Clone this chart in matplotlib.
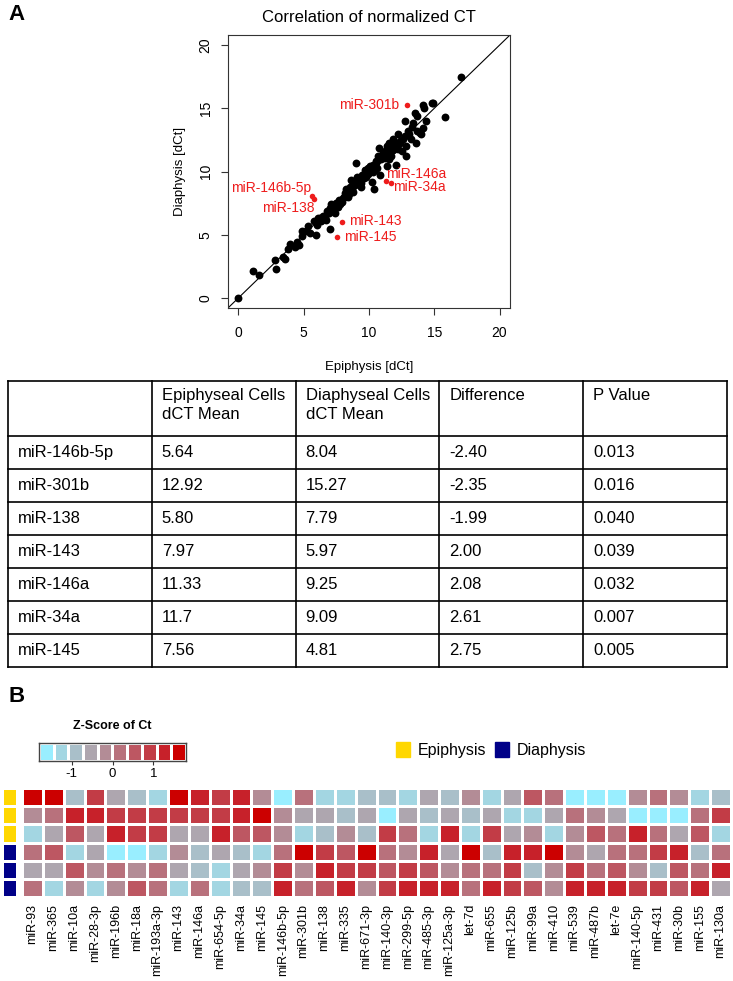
import numpy as np
import matplotlib
matplotlib.use('Agg')
import matplotlib.pyplot as plt
from matplotlib.colors import ListedColormap, BoundaryNorm
from matplotlib.patches import Rectangle

plt.rcParams['font.family'] = ['Liberation Sans', 'DejaVu Sans']
plt.rcParams['axes.unicode_minus'] = False

# ---- Panel A: scatter of normalized CT values ----
epi_dct = [0.0, 1.15, 1.6, 2.8, 2.85, 3.4, 3.6, 3.8, 3.95, 4.3, 4.5, 4.6, 4.85, 5.35, 5.5,
           5.75, 5.95, 6.0, 6.25, 6.5, 6.7, 6.9, 7.05, 7.15, 7.25, 7.4, 7.5, 7.7, 7.9, 8.0,
           8.15, 8.3, 8.4, 8.55, 8.65, 8.8, 8.9, 9.0, 9.1, 9.3, 9.4, 9.5, 9.7, 9.8, 9.95,
           10.05, 10.2, 10.3, 10.45, 10.4, 10.55, 10.7, 10.8, 10.85, 10.95, 11.1, 11.2, 11.35,
           11.4, 11.55, 11.6, 11.7, 11.85, 11.95, 12.1, 12.25, 12.35, 12.5, 12.6, 12.75, 12.8,
           12.85, 13.0, 12.75, 13.4, 13.5, 13.65, 13.7, 13.6, 13.9, 14.0, 14.1, 14.25, 14.4,
           14.8, 14.9, 15.8, 17.05, 14.1,
           6.3, 6.6, 6.8, 7.0, 7.3, 7.6, 7.8, 8.1, 8.2, 8.5, 8.7, 8.9, 9.2, 9.4, 9.6, 9.9,
           10.1, 10.3, 10.6, 10.7, 11.0, 11.2, 11.5, 11.8, 12.0, 12.2, 12.4, 13.1, 13.2, 13.3,
           8.3, 8.8, 9.1, 9.8, 10.5, 11.3, 5.2, 4.9, 7.1, 6.1]
dia_dct = [0.0, 2.1, 1.85, 3.0, 2.3, 3.25, 3.1, 3.9, 4.3, 4.05, 4.45, 4.2, 5.3, 5.65, 5.1,
           6.05, 4.95, 5.8, 6.3, 6.45, 6.2, 6.7, 5.45, 6.95, 7.25, 6.75, 7.5, 7.75, 7.6, 7.9,
           8.3, 8.55, 8.0, 8.8, 9.35, 8.4, 8.95, 10.7, 9.2, 9.35, 8.8, 9.75, 10.15, 9.6, 10.3,
           10.0, 9.2, 10.55, 10.15, 8.65, 10.7, 11.2, 11.85, 9.75, 10.95, 11.45, 11.05, 12.0,
           10.4, 12.25, 11.6, 11.2, 12.55, 12.0, 10.55, 12.95, 12.25, 11.6, 12.55, 12.8, 11.2,
           12.0, 13.2, 14.0, 13.85, 14.65, 14.4, 13.2, 12.25, 13.05, 12.95, 13.45, 15.05, 14.0,
           15.45, 15.4, 14.3, 17.5, 15.25,
           6.1, 6.4, 6.9, 7.1, 7.0, 7.2, 7.4, 8.0, 8.6, 8.2, 8.6, 9.1, 9.0, 9.1, 9.5, 9.8,
           10.4, 10.0, 10.3, 10.9, 11.3, 11.6, 11.0, 11.7, 12.2, 11.8, 12.4, 13.0, 12.6, 13.5,
           8.4, 9.0, 9.6, 10.1, 10.8, 11.2, 5.3, 4.9, 7.4, 6.3]

# ---- Table of significant miRNAs ----
sig_names = ['miR-146b-5p', 'miR-301b', 'miR-138', 'miR-143', 'miR-146a', 'miR-34a', 'miR-145']
sig_epi = ['5.64', '12.92', '5.80', '7.97', '11.33', '11.7', '7.56']
sig_dia = ['8.04', '15.27', '7.79', '5.97', '9.25', '9.09', '4.81']
sig_diff = ['-2.40', '-2.35', '-1.99', '2.00', '2.08', '2.61', '2.75']
sig_p = ['0.013', '0.016', '0.040', '0.039', '0.032', '0.007', '0.005']
table_header = ['', 'Epiphyseal Cells\ndCT Mean', 'Diaphyseal Cells\ndCT Mean', 'Difference', 'P Value']

# label positions for the red points (data coords) and alignment
label_pos = {'miR-301b': (12.3, 15.3, 'right'), 'miR-146b-5p': (5.6, 8.7, 'right'),
             'miR-138': (5.85, 7.1, 'right'), 'miR-146a': (11.3, 9.8, 'left'),
             'miR-34a': (11.85, 8.75, 'left'), 'miR-143': (8.5, 6.1, 'left'),
             'miR-145': (8.1, 4.85, 'left')}

# ---- Panel B: heatmap of Z-scores of Ct ----
mirnas = ['miR-93', 'miR-365', 'miR-10a', 'miR-28-3p', 'miR-196b', 'miR-18a', 'miR-193a-3p',
          'miR-143', 'miR-146a', 'miR-654-5p', 'miR-34a', 'miR-145', 'miR-146b-5p', 'miR-301b',
          'miR-138', 'miR-335', 'miR-671-3p', 'miR-140-3p', 'miR-299-5p', 'miR-485-3p',
          'miR-125a-3p', 'let-7d', 'miR-655', 'miR-125b', 'miR-99a', 'miR-410', 'miR-539',
          'miR-487b', 'let-7e', 'miR-140-5p', 'miR-431', 'miR-30b', 'miR-155', 'miR-130a']
epi_1 = [1.6, 1.6, -0.9, 0.9, -0.5, -0.9, -1.3, 1.6, 1.3, 0.9, 1.3, -0.2, -1.6, 0.2, -1.3, -1.3, -0.9,
         -0.9, -1.3, -0.5, -0.9, -0.2, -1.3, -0.5, 0.5, 0.2, -1.6, -1.6, -1.6, -0.2, 0.2, -0.2, -1.3, -0.9]
epi_2 = [-0.2, 0.2, 1.3, 1.3, 0.9, 0.9, 0.9, 0.9, 0.9, 0.9, 1.3, 1.6, -0.2, -0.5, -0.5, -0.9, -0.5,
         -1.6, -0.5, -0.9, -0.5, -0.9, -0.5, -1.3, -1.3, -0.5, 0.2, -0.2, -0.5, -1.6, -1.6, -1.6, 0.2, 0.9]
epi_3 = [-1.3, -0.5, 0.5, -0.5, 1.3, 0.9, 0.9, -0.5, -0.5, 1.3, 0.5, 0.5, -0.2, -1.3, -0.9, -0.2, -0.9,
         0.9, 0.2, -1.3, 1.3, -1.3, 0.9, -0.5, -0.2, -1.3, -0.2, 0.5, 0.2, 1.3, 0.2, -0.5, 0.5, -1.3]
dia_1 = [0.2, 0.5, -1.3, -0.5, -1.6, -1.6, -1.3, -0.2, -0.9, -0.5, -0.9, -1.3, 0.2, 1.6, 0.9, 0.5, 1.6,
         0.2, -0.2, 1.3, -0.5, 1.6, -0.9, 1.3, 1.3, 1.6, -0.2, -0.5, 0.2, 0.2, 0.9, 1.3, -0.9, 0.2]
dia_2 = [-0.5, -0.5, 0.5, -0.2, 0.2, -0.2, 0.2, -0.5, -0.9, -1.3, -0.5, -0.2, 0.9, -0.2, 1.3, 0.9, 0.9,
         0.5, 0.9, 0.5, -0.2, 0.2, 0.2, 0.9, -0.9, -0.2, 0.9, 0.2, 0.5, -0.2, -0.9, 0.5, 0.2, 1.3]
dia_3 = [0.2, -1.3, -0.2, -1.3, -0.2, 0.5, 0.2, -1.3, 0.2, -1.3, -0.9, -0.9, 1.3, 0.2, 0.5, 1.3, -0.2,
         0.9, 1.3, 1.3, 1.3, 0.2, 1.3, 0.9, 0.5, -0.2, 1.3, 1.3, 1.3, 0.9, 0.9, 0.5, 1.3, -0.5]
sample_group = [0, 0, 0, 1, 1, 1]   # 0 = Epiphysis, 1 = Diaphysis

hm_colors = ['#99EEFF', '#A3D6E2', '#A9BFC9', '#AEA6AF', '#B38C96',
             '#B8717C', '#BD5762', '#C23C46', '#C7212A', '#CC0000']
group_colors = ['#FFD700', '#000088']
red = '#EE1C1C'

W, H = 733, 981
fig = plt.figure(figsize=(W / 100, H / 100), dpi=100)


def px_axes(x0, y0, x1, y1):
    return fig.add_axes([x0 / W, 1 - y1 / H, (x1 - x0) / W, (y1 - y0) / H])


# overlay for text, table and legend in pixel coordinates
ov = fig.add_axes([0, 0, 1, 1])
ov.set_xlim(0, W)
ov.set_ylim(H, 0)
ov.axis('off')

ov.text(8, 14, 'A', fontsize=16, fontweight='bold', va='center', ha='left')
ov.text(8, 697, 'B', fontsize=16, fontweight='bold', va='center', ha='left')

# ---- scatter ----
ax = px_axes(228, 35, 510, 308)
ax.set_xlim(-0.8, 20.8)
ax.set_ylim(-0.8, 20.8)
ax.plot([-0.8, 20.8], [-0.8, 20.8], color='black', lw=0.8, zorder=1)
ax.scatter(epi_dct, dia_dct, s=32, c='black', linewidths=0, zorder=2)
red_x = [float(v) for v in sig_epi]
red_y = [float(v) for v in sig_dia]
ax.scatter(red_x, red_y, s=16, c=red, linewidths=0, zorder=3)
for name in sig_names:
    lx, ly, ha = label_pos[name]
    ax.text(lx, ly, name, color=red, fontsize=10, ha=ha, va='center', zorder=4)
ax.set_xticks([0, 5, 10, 15, 20])
ax.set_yticks([0, 5, 10, 15, 20])
ax.tick_params(direction='out', length=5, width=0.8, labelsize=10, color='#333333')
ax.tick_params(axis='x', pad=8)
ax.tick_params(axis='y', pad=6)
for lab in ax.get_yticklabels():
    lab.set_rotation(90)
    lab.set_va('center')
for sp in ax.spines.values():
    sp.set_linewidth(0.8)
    sp.set_color('#333333')
ov.text(369, 17, 'Correlation of normalized CT', fontsize=12, ha='center', va='center')
ov.text(369, 367, 'Epiphysis [dCt]', fontsize=9.5, ha='center', va='center')
ov.text(180, 171, 'Diaphysis [dCt]', fontsize=9.5, ha='center', va='center', rotation=90)

# ---- table ----
tx0, tx1, ty0 = 8, 727, 381
col_w = (tx1 - tx0) / 5
head_h, row_h = 55, 33
ty1 = ty0 + head_h + row_h * len(sig_names)
ov.plot([tx0, tx1], [ty0, ty0], color='black', lw=1.2)
ov.plot([tx0, tx1], [ty0 + head_h, ty0 + head_h], color='black', lw=1.2)
for i in range(1, len(sig_names) + 1):
    yy = ty0 + head_h + i * row_h
    ov.plot([tx0, tx1], [yy, yy], color='black', lw=1.2)
for j in range(6):
    xx = tx0 + j * col_w
    ov.plot([xx, xx], [ty0, ty1], color='black', lw=1.2)
for j, h in enumerate(table_header):
    ov.text(tx0 + j * col_w + 10, ty0 + 7, h, fontsize=12, ha='left', va='top', linespacing=1.3)
for i in range(len(sig_names)):
    yc = ty0 + head_h + (i + 0.5) * row_h
    row = [sig_names[i], sig_epi[i], sig_dia[i], sig_diff[i], sig_p[i]]
    for j, val in enumerate(row):
        ov.text(tx0 + j * col_w + 10, yc, val, fontsize=12, ha='left', va='center')

# ---- heatmap ----
Z = np.array([epi_1, epi_2, epi_3, dia_1, dia_2, dia_3])
bounds = np.linspace(-1.8, 1.8, 11)
cmap = ListedColormap(hm_colors)
norm = BoundaryNorm(bounds, cmap.N)

hm = px_axes(22, 788, 731, 897)
hm.pcolormesh(Z, cmap=cmap, norm=norm, edgecolors='white', linewidth=1)
hm.set_xlim(0, len(mirnas))
hm.set_ylim(Z.shape[0], 0)
hm.set_xticks(np.arange(len(mirnas)) + 0.5)
hm.set_xticklabels(mirnas, rotation=90, fontsize=9, va='top')
hm.set_yticks([])
hm.tick_params(axis='x', length=0, pad=5)
for sp in hm.spines.values():
    sp.set_visible(False)

an = px_axes(2, 788, 17, 897)
an.pcolormesh(np.array(sample_group).reshape(-1, 1), cmap=ListedColormap(group_colors),
              vmin=0, vmax=1, edgecolors='white', linewidth=1)
an.set_ylim(len(sample_group), 0)
an.axis('off')

# colour key
cb = px_axes(39, 743, 186, 761)
cb.pcolormesh(bounds, [0, 1], ((bounds[:-1] + bounds[1:]) / 2).reshape(1, -1),
              cmap=cmap, norm=norm, edgecolors='white', linewidth=0.8)
cb.set_xlim(bounds[0], bounds[-1])
cb.set_ylim(0, 1)
cb.set_yticks([])
cb.set_xticks([-1, 0, 1])
cb.tick_params(axis='x', length=3, width=0.8, labelsize=9.5, pad=2, color='#333333')
for sp in cb.spines.values():
    sp.set_linewidth(1)
    sp.set_color('#444444')
ov.text(112, 726, 'Z-Score of Ct', fontsize=9, fontweight='bold', ha='center', va='center')

# group legend
ov.add_patch(Rectangle((396, 742), 14, 15, color=group_colors[0]))
ov.text(418, 750, 'Epiphysis', fontsize=11.5, ha='left', va='center')
ov.add_patch(Rectangle((495, 742), 14, 15, color=group_colors[1]))
ov.text(517, 750, 'Diaphysis', fontsize=11.5, ha='left', va='center')

fig.savefig('out.png', dpi=100)
